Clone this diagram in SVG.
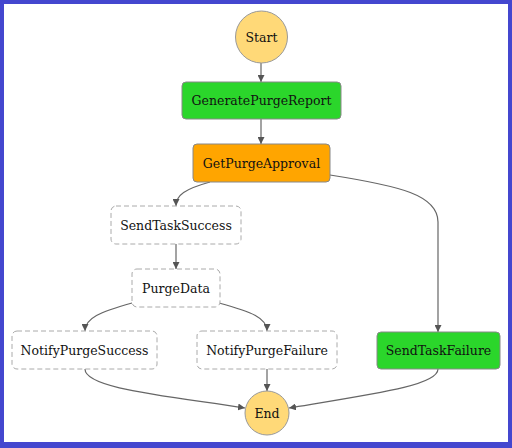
<svg xmlns="http://www.w3.org/2000/svg" width="512" height="448" viewBox="0 0 512 448">
  <style>
    text { font-family: "DejaVu Serif", serif; font-size: 12.5px; fill: #111; text-anchor: middle; dominant-baseline: central; }
    .term { fill: #ffd978; stroke: #999; stroke-width: 1; }
    .task { fill: #2bd62b; stroke: #888; stroke-width: 1; }
    .wait { fill: #ffa500; stroke: #888; stroke-width: 1; }
    .idle { fill: #fff; stroke: #aaa; stroke-width: 1; stroke-dasharray: 5 3; }
    .edge { fill: none; stroke: #666; stroke-width: 1.2; marker-end: url(#arrow); }
  </style>
  <defs>
    <marker id="arrow" viewBox="0 0 10 10" refX="10" refY="5" markerWidth="7" markerHeight="7" markerUnits="userSpaceOnUse" orient="auto">
      <path d="M0,0 L10,5 L0,10 z" fill="#555"/>
    </marker>
  </defs>

  <!-- frame -->
  <rect x="0" y="0" width="512" height="448" fill="#4447cf"/>
  <rect x="4" y="4" width="504" height="438" fill="#fff"/>

  <g id="connectors">
    <path class="edge" d="M261,63 L261,82"/>
    <path class="edge" d="M261,119 L261,144"/>
    <path class="edge" d="M210,182 C185,189 176,195 176,206"/>
    <path class="edge" d="M330,175 C400,186 438,195 438,222 L438,332"/>
    <path class="edge" d="M176,244 L176,269"/>
    <path class="edge" d="M132,303 C100,312 85,318 85,331"/>
    <path class="edge" d="M219,303 C252,312 267,318 267,331"/>
    <path class="edge" d="M267,369 L267,391"/>
    <path class="edge" d="M85,369 C85,388 160,395 245,408"/>
    <path class="edge" d="M438,369 C438,385 380,393 289,408"/>
  </g>

  <g id="Start">
    <circle class="term" cx="261.5" cy="37" r="26"/>
    <text x="261.5" y="37">Start</text>
  </g>
  <g id="GeneratePurgeReport">
    <rect class="task" x="182" y="82" width="159" height="37" rx="4"/>
    <text x="261.5" y="100.5">GeneratePurgeReport</text>
  </g>
  <g id="GetPurgeApproval">
    <rect class="wait" x="193" y="144" width="137" height="38" rx="4"/>
    <text x="261.5" y="163">GetPurgeApproval</text>
  </g>
  <g id="SendTaskSuccess">
    <rect class="idle" x="111" y="206" width="130" height="38" rx="5"/>
    <text x="176" y="225">SendTaskSuccess</text>
  </g>
  <g id="PurgeData">
    <rect class="idle" x="132" y="269" width="88" height="38" rx="5"/>
    <text x="176" y="288">PurgeData</text>
  </g>
  <g id="NotifyPurgeSuccess">
    <rect class="idle" x="12" y="331" width="145" height="38" rx="5"/>
    <text x="84.5" y="350">NotifyPurgeSuccess</text>
  </g>
  <g id="NotifyPurgeFailure">
    <rect class="idle" x="197" y="331" width="140" height="38" rx="5"/>
    <text x="267" y="350">NotifyPurgeFailure</text>
  </g>
  <g id="SendTaskFailure">
    <rect class="task" x="377" y="332" width="123" height="37" rx="4"/>
    <text x="438.5" y="350.5">SendTaskFailure</text>
  </g>
  <g id="End">
    <circle class="term" cx="267" cy="413" r="22"/>
    <text x="267" y="413">End</text>
  </g>
</svg>
